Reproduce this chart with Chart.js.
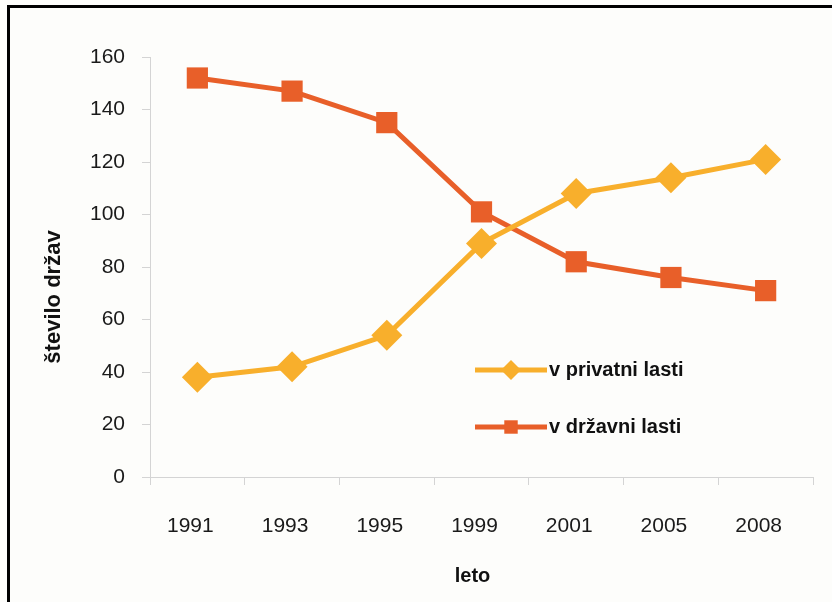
<!DOCTYPE html>
<html>
<head>
<meta charset="utf-8">
<title>število držav</title>
<script src="https://cdn.jsdelivr.net/npm/chart.js@4/dist/chart.umd.min.js"></script>
<style>
  html, body { margin: 0; padding: 0; background: #fdfdfb; }
  #wrap { position: relative; width: 832px; height: 602px; }
  #frame { position: absolute; left: 7px; top: 5px; right: 0; bottom: 0;
           border-top: 3px solid #000; border-left: 3px solid #000; pointer-events: none; }
  canvas { display: block; }
</style>
</head>
<body>
<div id="wrap">
  <canvas id="c" width="832" height="602"></canvas>
  <div id="frame"></div>
</div>
<script>
// Years on the horizontal axis
const years = ['1991', '1993', '1995', '1999', '2001', '2005', '2008'];
// Number of countries, privately owned
const privatni = [38, 42, 54, 89, 108, 114, 121];
// Number of countries, state owned
const drzavni = [152, 147, 135, 101, 82, 76, 71];
const seriesNames = ['v privatni lasti', 'v državni lasti'];
const xTitle = 'leto';
const yTitle = 'število držav';
const yMin = 0, yMax = 160, yStep = 20;

const FONT = '"Liberation Sans", Arial, Helvetica, sans-serif';
const AXIS_GRAY = '#d4d4d4';
const YELLOW = '#F8AF2C';
const ORANGE = '#E85F29';

Chart.defaults.font.family = FONT;
Chart.defaults.color = '#1a1a1a';

// Axis titles and the in-plot legend
const decorations = {
  id: 'decorations',
  afterDraw(chart) {
    const { ctx, chartArea: a } = chart;
    ctx.save();
    ctx.fillStyle = '#111';
    ctx.font = 'bold 20px ' + FONT;
    ctx.textAlign = 'center';
    ctx.textBaseline = 'middle';
    ctx.fillText(xTitle, (a.left + a.right) / 2 - 9, 576);
    ctx.font = 'bold 22px ' + FONT;
    ctx.translate(54, 297);
    ctx.rotate(-Math.PI / 2);
    ctx.fillText(yTitle, 0, 0);
    ctx.restore();

    const lx = a.left + 325, ly = 370, gap = 57, len = 72;
    chart.data.datasets.forEach((ds, i) => {
      const y = ly + i * gap;
      ctx.save();
      ctx.strokeStyle = ds.borderColor;
      ctx.lineWidth = 5;
      ctx.beginPath();
      ctx.moveTo(lx, y);
      ctx.lineTo(lx + len, y);
      ctx.stroke();
      ctx.fillStyle = ds.pointBackgroundColor;
      Chart.helpers.drawPoint(ctx, { pointStyle: ds.pointStyle, radius: i === 0 ? 10 : 9.5, borderWidth: 0, rotation: 0 }, lx + len / 2, y);
      ctx.fillStyle = '#111';
      ctx.font = 'bold 20px ' + FONT;
      ctx.textAlign = 'left';
      ctx.textBaseline = 'middle';
      ctx.fillText(ds.label, lx + len + 2, y);
      ctx.restore();
    });
  }
};

new Chart(document.getElementById('c'), {
  type: 'line',
  data: {
    labels: years,
    datasets: [
      {
        label: seriesNames[0],
        data: privatni,
        borderColor: YELLOW,
        backgroundColor: YELLOW,
        pointBackgroundColor: YELLOW,
        pointBorderWidth: 0,
        pointStyle: 'rectRot',
        pointRadius: 15.5,
        borderWidth: 5,
        tension: 0
      },
      {
        label: seriesNames[1],
        data: drzavni,
        borderColor: ORANGE,
        backgroundColor: ORANGE,
        pointBackgroundColor: ORANGE,
        pointBorderWidth: 0,
        pointStyle: 'rect',
        pointRadius: 15,
        borderWidth: 5,
        tension: 0
      }
    ]
  },
  options: {
    responsive: false,
    animation: false,
    devicePixelRatio: 1,
    layout: { padding: { top: 57, right: 19, left: 0, bottom: 0 } },
    plugins: { legend: { display: false }, tooltip: { enabled: false } },
    scales: {
      x: {
        offset: true,
        grid: { offset: true, drawOnChartArea: false, drawTicks: true, tickLength: 8, color: AXIS_GRAY, lineWidth: 1 },
        border: { color: AXIS_GRAY, width: 1 },
        ticks: { font: { size: 21 }, padding: 29, labelOffset: -7, maxRotation: 0, color: '#1a1a1a' },
        afterFit(s) { s.height = 125; }
      },
      y: {
        min: yMin,
        max: yMax,
        grid: { drawOnChartArea: false, drawTicks: true, tickLength: 8, color: AXIS_GRAY, lineWidth: 1 },
        border: { color: AXIS_GRAY, width: 1 },
        ticks: { stepSize: yStep, font: { size: 21 }, padding: 17, color: '#1a1a1a' },
        afterFit(s) { s.width = 150; }
      }
    }
  },
  plugins: [decorations]
});
</script>
</body>
</html>
